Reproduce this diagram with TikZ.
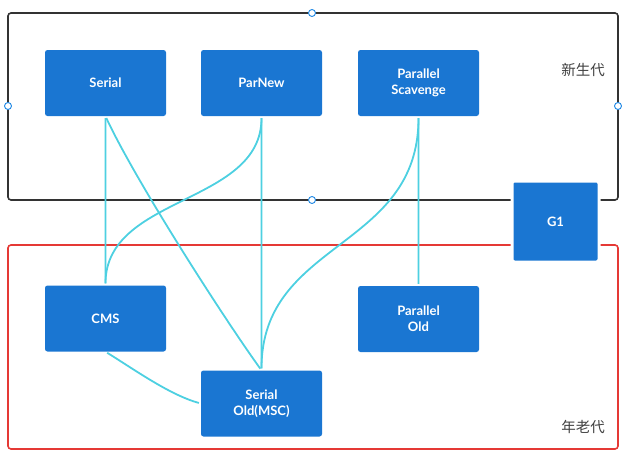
\documentclass[tikz,border=0pt]{standalone}
\usepackage{fontspec}
\setmainfont{Lato}
\newfontfamily\cjk{Noto Sans CJK SC}
\definecolor{boxblue}{HTML}{1A76D2}
\definecolor{conncol}{HTML}{4DD0E1}
\definecolor{framegray}{HTML}{333333}
\definecolor{framered}{HTML}{E53935}
\definecolor{handleblue}{HTML}{1E88E5}
\definecolor{labelgray}{HTML}{404040}
\begin{document}
\begin{tikzpicture}[x=1pt,y=-1pt,
  gcbox/.style={rectangle, rounded corners=2.5pt, fill=boxblue, text=white,
    minimum width=121pt, minimum height=66pt, inner sep=0pt, align=center,
    font=\bfseries\fontsize{13}{16}\selectfont},
  conn/.style={draw=conncol, line width=1.8pt, shorten <=2pt, shorten >=2pt},
  frame/.style={line width=1.6pt, rounded corners=3pt},
  handle/.style={circle, draw=handleblue, fill=white, line width=0.9pt, minimum size=7pt, inner sep=0pt},
  genlabel/.style={text=labelgray, font=\cjk\fontsize{14.5}{16}\selectfont}]
\useasboundingbox (0,0) rectangle (633,466);
% frames
\draw[frame, draw=framegray] (8,13) rectangle (618,200);
\draw[frame, draw=framered] (8,245) rectangle (618,449);
% G1 with white surround
\node[gcbox, minimum width=87pt, minimum height=81pt, draw=white, line width=3pt] (g1) at (555.5,221.5) {G1};
% handles
\node[handle] (h1) at (312,13) {};
\node[handle] (h2) at (8,106) {};
\node[handle] (h3) at (618,106) {};
\node[handle] (h4) at (312,200) {};
% boxes
\node[gcbox] (serial) at (105.5,83) {Serial};
\node[gcbox] (parnew) at (261.5,83) {ParNew};
\node[gcbox] (ps) at (418.5,83) {Parallel\\Scavenge};
\node[gcbox] (cms) at (105.5,318.5) {CMS};
\node[gcbox] (sold) at (261.5,403.5) {Serial\\Old(MSC)};
\node[gcbox] (pold) at (418.5,319) {Parallel\\Old};
% labels
\node[genlabel] (young) at (583,70) {新生代};
\node[genlabel] (old) at (583,427) {年老代};
% connectors
\draw[conn] (serial.south) .. controls +(0.3,60) and +(-0.3,-60) .. (cms.north);
\draw[conn] (serial.south) .. controls (135,180) and (225,320) .. (sold.north);
\draw[conn] (parnew.south) .. controls +(0.3,80) and +(-0.3,-80) .. (sold.north);
\draw[conn] (parnew.south) .. controls (261.5,205) and (105.5,195) .. (cms.north);
\draw[conn] (ps.south) .. controls +(0.3,60) and +(-0.3,-60) .. (pold.north);
\draw[conn] (ps.south) .. controls (418.5,250) and (261.5,240) .. (sold.north);
\draw[conn] (cms.south) .. controls (135,370) and (170,395) .. (sold.west);
\end{tikzpicture}
\end{document}
